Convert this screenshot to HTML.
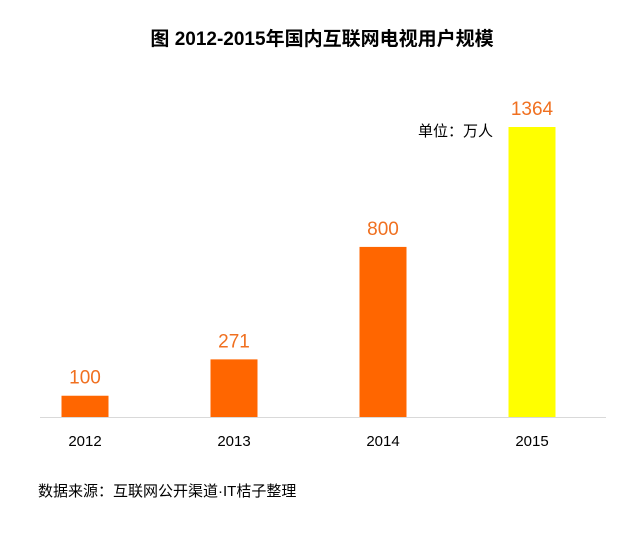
<!DOCTYPE html>
<html><head><meta charset="utf-8"><style>
body{margin:0;background:#fff;width:628px;height:530px;overflow:hidden}
svg text{font-family:"Liberation Sans","Noto Sans CJK SC",sans-serif}
</style></head><body>
<svg width="628" height="530">
<text x="322" y="45" text-anchor="middle" font-size="19" font-weight="bold" fill="#000">图 2012-2015年国内互联网电视用户规模</text>
<text x="418" y="136" font-size="15" fill="#000">单位：万人</text>
<line x1="40" y1="417.5" x2="606" y2="417.5" stroke="#d9d9d9" stroke-width="1"/>
<g id="bars"></g>
<text x="38" y="496" font-size="15" fill="#000">数据来源：互联网公开渠道·IT桔子整理</text>
</svg>
<script>
const categories=["2012","2013","2014","2015"];
const values=[100,271,800,1364];
const colors=["#FF6600","#FF6600","#FF6600","#FFFF00"];
const base=417, scale=290/1364;
const x0=85, step=149, bw=47;
function xPos(i){return x0+i*step;}
function yPos(v){return base-v*scale;}
const g=document.getElementById('bars');
const NS="http://www.w3.org/2000/svg";
categories.forEach((c,i)=>{
  const cx=xPos(i), y=yPos(values[i]);
  const r=document.createElementNS(NS,'rect');
  r.setAttribute('x',cx-bw/2);r.setAttribute('y',y);
  r.setAttribute('width',bw);r.setAttribute('height',base-y);
  r.setAttribute('fill',colors[i]);
  
  
  g.appendChild(r);
  const t=document.createElementNS(NS,'text');
  t.setAttribute('x',cx);t.setAttribute('y',y-12);
  t.setAttribute('text-anchor','middle');t.setAttribute('font-size','19');
  t.setAttribute('fill','#F07020');t.textContent=values[i];
  
  
  g.appendChild(t);
  const l=document.createElementNS(NS,'text');
  l.setAttribute('x',cx);l.setAttribute('y',446);
  l.setAttribute('text-anchor','middle');l.setAttribute('font-size','15');
  l.setAttribute('fill','#000');l.textContent=c;
  
  
  g.appendChild(l);
});
</script>
</body></html>
